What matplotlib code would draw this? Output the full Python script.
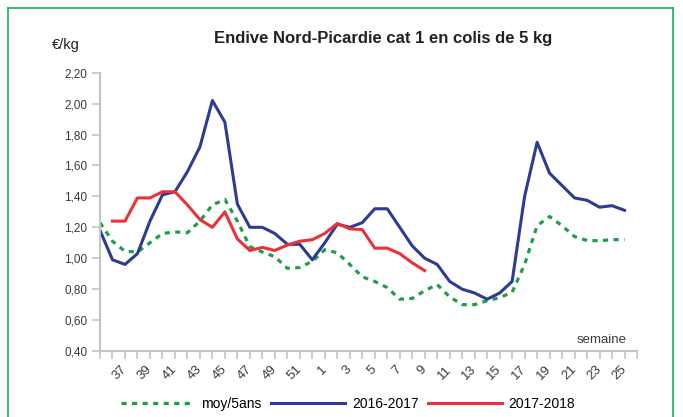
import numpy as np
import matplotlib
matplotlib.use("Agg")
import matplotlib.pyplot as plt
from matplotlib.lines import Line2D

# ----------------------------
# data
# ----------------------------
weeks = list(range(35, 53)) + list(range(1, 26))

moy_5ans = [1.23, 1.11, 1.045, 1.04, 1.10, 1.16, 1.17, 1.165, 1.24, 1.345,
            1.38, 1.24, 1.075, 1.04, 1.01, 0.935, 0.94, 0.98, 1.055, 1.035,
            0.96, 0.88, 0.85, 0.81, 0.735, 0.74, 0.79, 0.83, 0.75, 0.70,
            0.70, 0.725, 0.745, 0.78, 0.96, 1.21, 1.27, 1.21, 1.14, 1.115,
            1.113, 1.12, 1.12]

s2016_2017 = [1.18, 0.99, 0.96, 1.03, 1.24, 1.41, 1.43, 1.56, 1.72, 2.02,
              1.88, 1.35, 1.20, 1.20, 1.16, 1.09, 1.09, 0.99, 1.10, 1.22,
              1.20, 1.23, 1.32, 1.32, 1.20, 1.08, 1.00, 0.96, 0.85, 0.80,
              0.775, 0.735, 0.775, 0.85, 1.40, 1.75, 1.55, 1.47, 1.39, 1.375,
              1.33, 1.34, 1.31]

s2017_2018 = [np.nan, 1.24, 1.24, 1.39, 1.39, 1.43, 1.43, 1.345, 1.25, 1.20,
              1.30, 1.125, 1.05, 1.07, 1.05, 1.085, 1.11, 1.12, 1.16, 1.225,
              1.19, 1.185, 1.065, 1.065, 1.03, 0.97, 0.92]

y_ticks = [0.40, 0.60, 0.80, 1.00, 1.20, 1.40, 1.60, 1.80, 2.00, 2.20]

# ----------------------------
# style
# ----------------------------
GREEN = "#1e9e4a"
BLUE = "#2e3b94"
RED = "#ec3136"
AXIS = "#c4c4c4"
TXT = "#3a3a3a"
FONT = ["Liberation Sans Narrow", "Liberation Sans", "DejaVu Sans"]
WIDE = ["Liberation Sans", "DejaVu Sans"]
plt.rcParams["font.family"] = FONT

W, H = 683, 417
fig = plt.figure(figsize=(W / 100, H / 100), dpi=100)
ax = fig.add_axes([100 / W, 66 / H, 537 / W, 278.3 / H])

x_all = np.arange(len(weeks))
ax.plot(x_all, moy_5ans, color=GREEN, lw=2.3, ls=(0, (1.6, 1.7)),
        solid_capstyle="butt", dash_capstyle="butt", label="moy/5ans")
ax.plot(x_all, s2016_2017, color=BLUE, lw=2.2, label="2016-2017")
ax.plot(np.arange(len(s2017_2018)), s2017_2018, color=RED, lw=2.2,
        label="2017-2018")

ax.set_xlim(0, len(weeks))
ax.set_ylim(0.4, 2.2)

# y axis
ax.set_yticks(y_ticks)
ax.set_yticklabels([f"{v:.2f}".replace(".", ",") for v in y_ticks])

# x axis: tick at every week, label every other one
ax.set_xticks(np.arange(len(weeks) + 1))
xlabels = []
for i in range(len(weeks) + 1):
    if i >= 2 and i % 2 == 0 and i < len(weeks):
        xlabels.append(str(weeks[i]))
    else:
        xlabels.append("")
ax.set_xticklabels(xlabels, rotation=45, ha="right", va="center",
                   rotation_mode="anchor")

ax.tick_params(axis="both", colors=AXIS, labelcolor=TXT,
               length=6, width=1.2)
ax.tick_params(axis="x", pad=6, labelsize=9.5)
ax.tick_params(axis="y", pad=3, labelsize=8.5)

for s in ["top", "right"]:
    ax.spines[s].set_visible(False)
for s in ["left", "bottom"]:
    ax.spines[s].set_color(AXIS)
    ax.spines[s].set_linewidth(1.5)

# texts
fig.text(383 / W, 1 - 38 / H, "Endive Nord-Picardie cat 1 en colis de 5 kg",
         ha="center", va="center", fontsize=12, fontweight="bold",
         color="#222222", family=WIDE)
fig.text(52 / W, 1 - 45 / H, "€/kg", ha="left", va="center", fontsize=10.5,
         color="#222222", family=WIDE)
fig.text(627 / W, 1 - 340 / H, "semaine", ha="right", va="center",
         fontsize=9.5, color=TXT, family=WIDE)

# legend
fig.legend(loc="center", bbox_to_anchor=(348 / W, 1 - 404 / H), ncol=3,
           frameon=False, handlelength=5.3, columnspacing=0.7,
           handletextpad=0.5, prop={"family": WIDE, "size": 10})

# green frame around the chart
for xs, ys in [([8, 8], [8, H]), ([8, 673], [8, 8]), ([673, 673], [8, H])]:
    fig.add_artist(Line2D([x / W for x in xs], [1 - y / H for y in ys],
                          color="#19b35a", lw=1.2))

fig.savefig("out.png", dpi=100)
